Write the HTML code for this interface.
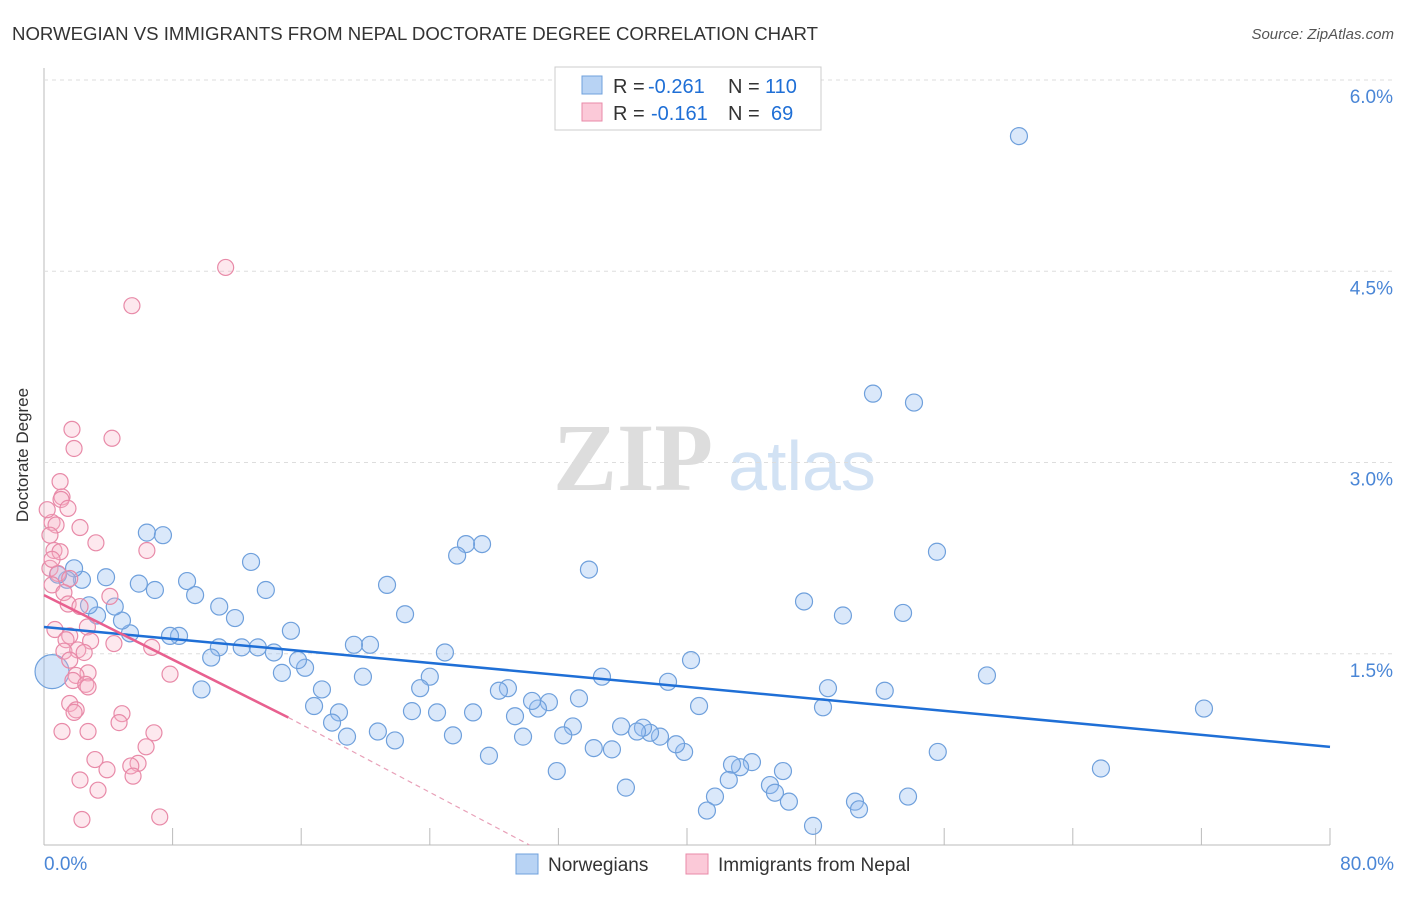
<!DOCTYPE html>
<html><head><meta charset="utf-8"><style>
body{margin:0;background:#fff;font-family:"Liberation Sans",sans-serif}
svg text{font-family:"Liberation Sans",sans-serif}
</style></head><body>
<svg id="c" width="1406" height="892" xmlns="http://www.w3.org/2000/svg">
<text x="12" y="40" font-size="18" fill="#333" textLength="806" lengthAdjust="spacingAndGlyphs">NORWEGIAN VS IMMIGRANTS FROM NEPAL DOCTORATE DEGREE CORRELATION CHART</text>
<text x="1394" y="39" font-size="15" fill="#555" text-anchor="end" font-style="italic">Source: ZipAtlas.com</text>
<text x="28" y="455" font-size="17" fill="#333" text-anchor="middle" transform="rotate(-90 28 455)">Doctorate Degree</text>
<g><text x="633" y="490" font-size="96" fill="#ddd" text-anchor="middle" style="font-family:'Liberation Serif',serif;font-weight:bold">ZIP</text><text x="802" y="490" font-size="70" fill="#d2e2f4" text-anchor="middle">atlas</text></g>
<g id="grid"></g><g id="pts"></g><g id="lines"></g>
<g>
<rect x="555" y="67" width="266" height="63" fill="#fff" stroke="#ccc"/>
<rect x="582" y="76" width="20" height="18" fill="#b8d3f4" stroke="#6fa0dc"/>
<rect x="582" y="103" width="20" height="18" fill="#fbc9d8" stroke="#e88aa8"/>
<text x="613" y="93" font-size="20" fill="#333">R =</text><text x="648" y="93" font-size="20" fill="#1f6fd6">-0.261</text>
<text x="728" y="93" font-size="20" fill="#333">N =</text><text x="765" y="93" font-size="20" fill="#1f6fd6">110</text>
<text x="613" y="120" font-size="20" fill="#333">R =</text><text x="651" y="120" font-size="20" fill="#1f6fd6">-0.161</text>
<text x="728" y="120" font-size="20" fill="#333">N =</text><text x="771" y="120" font-size="20" fill="#1f6fd6">69</text>
</g>
<g>
<rect x="516" y="854" width="22" height="20" fill="#b8d3f4" stroke="#6fa0dc"/><text x="548" y="871" font-size="19" fill="#333">Norwegians</text>
<rect x="686" y="854" width="22" height="20" fill="#fbc9d8" stroke="#e88aa8"/><text x="718" y="871" font-size="19" fill="#333">Immigrants from Nepal</text>
</g>
</svg>
<script>
const yTicks=[1.5,3.0,4.5,6.0];
const yTickLabels=["1.5%","3.0%","4.5%","6.0%"];
const xTicks=[0,8,16,24,32,40,48,56,64,72,80];
const blueX=[60.65,51.57,54.12,55.55,72.16,58.66,65.75,55.6,53.75,52.3,49.7,47.28,53.44,48.77,48.46,50.45,50.7,47.84,46.34,45.97,45.16,45.47,44.04,43.3,42.8,42.6,41.74,41.24,40.25,40.75,39.82,39.32,38.82,38.32,37.7,37.26,36.89,35.9,35.33,34.2,36.2,34.71,33.9,32.9,33.28,32.3,31.9,31.41,30.73,30.36,29.8,29.3,28.86,28.3,27.68,27.25,26.25,25.7,26.69,25.44,24.94,24.45,24.0,23.4,22.89,21.83,20.77,22.46,21.34,20.28,19.28,19.84,18.85,18.35,17.92,17.29,16.8,16.24,15.8,15.36,14.8,14.3,13.3,12.3,10.88,10.4,13.8,12.88,11.88,10.9,9.4,8.9,9.8,8.4,7.84,6.9,5.9,6.4,7.4,5.35,4.85,4.4,3.86,3.3,2.8,2.36,1.87,1.43,0.87];
const blueY=[5.56,3.54,3.47,2.30,1.07,1.33,0.60,0.73,0.38,1.21,1.80,1.91,1.82,1.23,1.08,0.34,0.28,0.15,0.34,0.58,0.47,0.41,0.65,0.61,0.63,0.51,0.38,0.27,1.45,1.09,0.73,0.79,1.28,0.85,0.88,0.92,0.89,0.93,0.75,0.76,0.45,1.32,2.16,0.93,1.15,0.86,0.58,1.12,1.07,1.13,0.85,1.01,1.23,1.21,0.70,2.36,2.36,2.27,1.04,0.86,1.51,1.04,1.32,1.23,1.05,0.82,0.89,1.81,2.04,1.57,1.57,1.32,0.85,1.04,0.96,1.22,1.09,1.39,1.45,1.68,1.35,1.51,1.55,1.55,1.55,1.47,2.0,2.22,1.78,1.87,1.96,2.07,1.22,1.64,1.64,2.0,2.05,2.45,2.43,1.66,1.76,1.87,2.1,1.8,1.88,2.08,2.17,2.08,2.12];
const pinkX=[11.3,5.47,4.23,1.74,1.87,1.0,1.12,1.06,1.49,0.5,2.24,0.75,0.37,3.23,6.4,0.62,1.0,0.37,0.87,1.6,0.5,1.24,4.1,1.5,2.24,2.7,0.68,1.6,2.9,1.37,4.35,6.7,1.24,2.1,2.5,1.6,2.74,1.99,1.8,7.84,2.6,2.74,1.6,2.0,1.87,4.85,4.67,1.12,2.74,6.84,6.35,3.17,5.85,5.4,3.92,5.54,2.24,3.36,7.2,2.36,0.5,0.2];
const pinkY=[4.53,4.23,3.19,3.26,3.11,2.85,2.73,2.71,2.64,2.53,2.49,2.51,2.43,2.37,2.31,2.31,2.3,2.17,2.13,2.09,2.04,1.98,1.95,1.89,1.87,1.71,1.69,1.64,1.6,1.61,1.58,1.55,1.52,1.53,1.51,1.45,1.35,1.33,1.29,1.34,1.26,1.24,1.11,1.06,1.04,1.03,0.96,0.89,0.89,0.88,0.77,0.67,0.64,0.62,0.59,0.54,0.51,0.43,0.22,0.20,2.24,2.63];
const bigX=[0.5], bigY=[1.36];
const blueTrend=[[0,1.71],[80,0.77]];
const pinkTrend=[[0,1.96],[15.2,1.0]];
const pinkDashEnd=[30.2,0];
const NS="http://www.w3.org/2000/svg";
const X=v=>44+v*16.075, Y=v=>845-v*127.5;
function mk(t,a,p){const e=document.createElementNS(NS,t);for(const k in a)e.setAttribute(k,a[k]);p.appendChild(e);return e;}
const g=document.getElementById('grid');
const ax=mk('line',{x1:44,y1:68,x2:44,y2:845,stroke:'#bbb'},g);


const bx=mk('line',{x1:44,y1:845,x2:1330,y2:845,stroke:'#bbb'},g);


yTicks.forEach((v,i)=>{
 const l=mk('line',{x1:44,x2:1394,y1:Y(v),y2:Y(v),stroke:'#ddd','stroke-dasharray':'4,4'},g);
 
 
 const t=mk('text',{x:1393,y:Y(v)+23,'font-size':19,fill:'#4a86d6','text-anchor':'end'},g);t.textContent=yTickLabels[i];
 
 
});
xTicks.forEach(v=>{const l=mk('line',{x1:X(v),x2:X(v),y1:828,y2:845,stroke:'#bbb'},g);
 
 });
[[0,"0.0%",'start',44],[80,"80.0%",'end',1394]].forEach(([v,s,a,x])=>{const t=mk('text',{x:x,y:870,'font-size':19,fill:'#4a86d6','text-anchor':a},g);t.textContent=s;
 
 });
const p=document.getElementById('pts');
blueX.forEach((v,i)=>{const c=mk('circle',{cx:X(v),cy:Y(blueY[i]),r:8.5,fill:'rgba(150,190,240,0.35)',stroke:'#6fa0dc','stroke-width':1.2},p);
 
 });
bigX.forEach((v,i)=>{const c=mk('circle',{cx:X(v),cy:Y(bigY[i]),r:17,fill:'rgba(150,190,240,0.4)',stroke:'#6fa0dc','stroke-width':1.2},p);
 
 });
pinkX.forEach((v,i)=>{const c=mk('circle',{cx:X(v),cy:Y(pinkY[i]),r:8,fill:'rgba(248,180,200,0.3)',stroke:'#e88aa8','stroke-width':1.2},p);
 
 });
const L=document.getElementById('lines');
const b=mk('line',{x1:X(blueTrend[0][0]),y1:Y(blueTrend[0][1]),x2:X(blueTrend[1][0]),y2:Y(blueTrend[1][1]),stroke:'#1f6fd6','stroke-width':2.5},L);


const pk=mk('line',{x1:X(pinkTrend[0][0]),y1:Y(pinkTrend[0][1]),x2:X(pinkTrend[1][0]),y2:Y(pinkTrend[1][1]),stroke:'#e8608f','stroke-width':2.5},L);


const pd=mk('line',{x1:X(pinkTrend[1][0]),y1:Y(pinkTrend[1][1]),x2:X(pinkDashEnd[0]),y2:Y(pinkDashEnd[1]),stroke:'#e8a0b8','stroke-width':1.2,'stroke-dasharray':'5,4'},L);


</script>
</body></html>
